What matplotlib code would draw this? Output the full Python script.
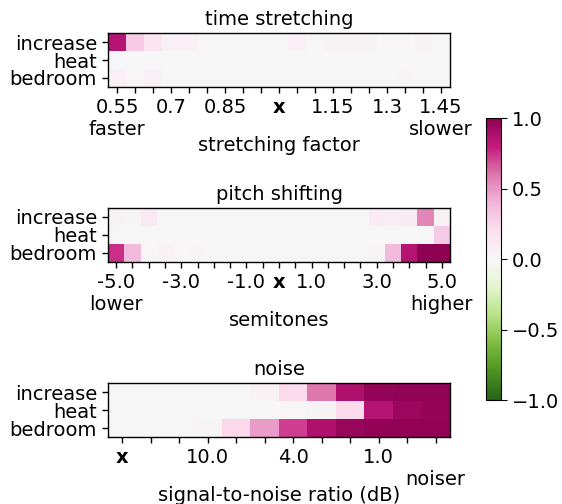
import numpy as np
import matplotlib
matplotlib.use('Agg')
import matplotlib.pyplot as plt
from matplotlib import rcParams

rcParams['font.family'] = 'DejaVu Sans'
rcParams['font.size'] = 14

classes = ['increase', 'heat', 'bedroom']

# time stretching: factors 0.55 .. 1.45
stretch_labels = ['0.55\nfaster', '', '', '0.7', '', '', '0.85', '', '', 'x',
                  '', '', '1.15', '', '', '1.3', '', '', '1.45\nslower']
stretch_vals = [
    [0.85, 0.30, 0.15, 0.06, 0.07, 0.01, 0.0, 0.0, 0.0, 0.0,
     0.07, 0.01, 0.03, 0.03, 0.03, 0.01, 0.01, 0.03, 0.0],
    [0.0] * 19,
    [0.07, 0.01, 0.06, 0.0, 0.0, 0.0, 0.0, 0.0, 0.0, 0.0,
     0.0, 0.0, 0.0, 0.0, 0.0, 0.0, 0.02, 0.0, 0.0],
]

# pitch shifting: semitones -5.0 .. 5.0
pitch_labels = ['-5.0\nlower', '', '', '', '-3.0', '', '', '', '-1.0', '', 'x',
                '', '1.0', '', '', '', '3.0', '', '', '', '5.0\nhigher']
pitch_vals = [
    [0.05, 0.02, 0.12, 0.0, 0.0, 0.0, 0.0, 0.0, 0.0, 0.0, 0.0,
     0.0, 0.0, 0.0, 0.0, 0.0, 0.10, 0.08, 0.10, 0.55, 0.05],
    [0.0, 0.0, 0.0, 0.0, 0.0, 0.0, 0.0, 0.0, 0.0, 0.0, 0.0,
     0.0, 0.0, 0.0, 0.0, 0.0, 0.0, 0.0, 0.0, 0.0, 0.30],
    [0.75, 0.38, 0.01, 0.04, 0.01, 0.02, 0.0, 0.0, 0.0, 0.0, 0.0,
     0.0, 0.0, 0.0, 0.0, 0.0, 0.02, 0.38, 0.85, 1.0, 1.0],
]

# noise: signal-to-noise ratio
noise_labels = ['x', '', '', '10.0', '', '', '4.0', '', '', '1.0', '', '\nnoiser']
noise_vals = [
    [0.0, 0.0, 0.0, 0.0, 0.0, 0.04, 0.22, 0.60, 0.88, 0.97, 0.98, 0.98],
    [0.0, 0.0, 0.0, 0.0, 0.0, 0.0, 0.01, 0.03, 0.22, 0.85, 0.95, 0.97],
    [0.0, 0.0, 0.0, 0.02, 0.23, 0.48, 0.72, 0.88, 0.96, 0.98, 0.98, 0.98],
]

panels = [
    ('time stretching', 'stretching factor', stretch_labels, stretch_vals, 0.8274),
    ('pitch shifting', 'semitones', pitch_labels, pitch_vals, 0.4802),
    ('noise', 'signal-to-noise ratio (dB)', noise_labels, noise_vals, 0.1329),
]

fig = plt.figure(figsize=(5.62, 5.04), dpi=100)

im = None
for title, xlabel, labels, vals, bottom in panels:
    ax = fig.add_axes([0.1922, bottom, 0.6085, 0.1071])
    im = ax.imshow(np.array(vals), cmap='PiYG_r', vmin=-1, vmax=1, aspect='auto',
                   interpolation='nearest')
    ax.set_title(title, fontsize=14, pad=6)
    ax.set_xticks(range(len(labels)))
    ax.set_xticklabels(labels, linespacing=1.2)
    for t in ax.get_xticklabels():
        if t.get_text() == 'x':
            t.set_fontweight('bold')
    ax.set_yticks(range(len(classes)))
    ax.set_yticklabels(classes)
    ax.set_xlabel(xlabel, labelpad=-2)
    ax.tick_params(axis='both', length=4.5, width=1.0)
    for spine in ax.spines.values():
        spine.set_linewidth(1.0)

cax = fig.add_axes([0.8648, 0.2063, 0.0267, 0.5595])
cb = fig.colorbar(im, cax=cax, ticks=[-1.0, -0.5, 0.0, 0.5, 1.0])
cb.ax.tick_params(labelsize=14, length=4.5)

fig.savefig('out.png', dpi=100)
